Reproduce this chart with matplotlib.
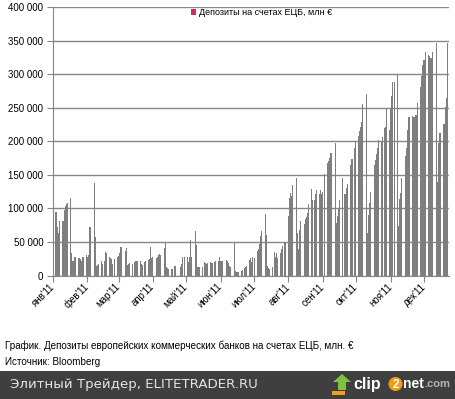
import numpy as np
import pandas as pd
import matplotlib
matplotlib.use('Agg')
import matplotlib.pyplot as plt
from matplotlib.patches import Patch, Rectangle, Polygon, Ellipse

plt.rcParams['font.family'] = ['Liberation Sans', 'DejaVu Sans']

# Депозиты на счетах ЕЦБ, млн €, одно значение на рабочий день (2011)
jan = [95000, 94000, 72000, 63000, 81000, 81000, 97000, 104000, 106000, 108000,
       116000, 33000, 22000, 27000, 27000, 26000, 26000, 25000, 21000, 27000, 31000]
feb = [27000, 30000, 72000, 72000, 138000, 57000, 14000, 16000, 17000, 21000,
       17000, 21000, 35000, 34000, 27000, 26000, 24000, 17000, 25000, 28000]
mar = [29000, 34000, 43000, 43000, 36000, 41000, 15000, 17000, 18000, 17000,
       20000, 21000, 21000, 22000, 21000, 17000, 16000, 20000, 21000, 23000,
       24000, 42000, 26000]
apr = [27000, 26000, 27000, 30000, 32000, 30000, 41000, 50000, 12000, 11000,
       10000, 10000, 10000, 14000, 14000, 0, 0, 13000, 17000, 27000, 28000]
may = [27000, 20000, 28000, 53000, 28000, 66000, 45000, 13000, 12000, 13000,
       13000, 20000, 19000, 17000, 18000, 20000, 19000, 18000, 20000, 21000,
       21000, 28000]
jun = [21000, 21000, 21000, 23000, 21000, 19000, 14000, 12000, 50000, 7000,
       5000, 5000, 5000, 6000, 8000, 11000, 13000, 14000, 23000, 26000,
       20000, 28000]
jul = [26000, 36000, 39000, 47000, 59000, 66000, 92000, 61000, 14000, 11000,
       10000, 12000, 35000, 28000, 34000, 26000, 34000, 39000, 44000, 50000, 50000]
aug = [88000, 115000, 123000, 118000, 135000, 146000, 63000, 39000, 68000, 81000,
       77000, 85000, 87000, 93000, 107000, 129000, 112000, 112000, 121000, 127000,
       121000, 127000, 121000]
sep = [125000, 151000, 168000, 171000, 175000, 182000, 182000, 198000, 78000, 88000,
       100000, 113000, 146000, 122000, 122000, 130000, 137000, 165000, 174000, 174000,
       190000, 200000]
oct = [208000, 215000, 222000, 229000, 256000, 270000, 63000, 90000, 108000, 124000,
       165000, 172000, 181000, 190000, 202000, 201000, 207000, 220000, 221000, 250000,
       217000]
nov = [250000, 267000, 288000, 288000, 299000, 74000, 114000, 123000, 145000, 178000,
       190000, 217000, 237000, 237000, 238000, 237000, 240000, 240000, 257000, 281000,
       297000, 314000]
dec = [322000, 334000, 329000, 327000, 324000, 324000, 334000, 347000, 140000, 198000,
       213000, 213000, 226000, 251000, 265000, 347000]

month_labels = ["янв'11", "фев'11", "мар'11", "апр'11", "май'11", "июн'11",
                "июл'11", "авг'11", "сен'11", "окт'11", "ноя'11", "дек'11"]

values = np.array(jan + feb + mar + apr + may + jun + jul + aug + sep + oct + nov + dec)
dates = pd.bdate_range('2011-01-03', '2011-12-22')
t0 = pd.Timestamp('2011-01-01')
days = (dates - t0).days.values
month_pos = (pd.date_range('2011-01-01', periods=12, freq='MS') - t0).days.values

W, H = 456, 399
fig = plt.figure(figsize=(W / 100, H / 100), dpi=100)
ax = fig.add_axes([53 / W, 1 - 275.5 / H, 396 / W, 268.2 / H])

ax.bar(days, values, width=0.92, color='#7f7f7f', linewidth=0)
ax.set_xlim(0.75, 356.5)
ax.set_ylim(0, 400000)

yt = np.arange(0, 400001, 50000)
ax.set_yticks(yt)
ax.set_yticklabels(['{:,}'.format(v).replace(',', ' ') for v in yt])
ax.yaxis.grid(True, color='#868686', lw=1)
ax.set_axisbelow(True)

ax.set_xticks(month_pos)
ax.set_xticklabels(month_labels, rotation=45, ha='right', va='center',
                   rotation_mode='anchor')

for s in ['top', 'right']:
    ax.spines[s].set_visible(False)
for s in ['left', 'bottom']:
    ax.spines[s].set_color('#868686')
ax.tick_params(axis='both', direction='out', length=4, color='#868686',
               labelsize=7, pad=3)

ax.legend(handles=[Patch(facecolor='#d6246e')],
          labels=['Депозиты на счетах ЕЦБ, млн €'],
          loc='upper left', bbox_to_anchor=(191 / W, 1 - 8 / H),
          bbox_transform=fig.transFigure, frameon=False, fontsize=6.5,
          handlelength=0.6, handleheight=0.6, handletextpad=0.25,
          borderpad=0, borderaxespad=0)

fig.text(5 / W, 1 - 346 / H,
         'График. Депозиты европейских коммерческих банков на счетах ЕЦБ, млн. €',
         fontsize=7.1, va='center')
fig.text(5 / W, 1 - 362 / H, 'Источник: Bloomberg', fontsize=7.1, va='center')

# footer band
fig.add_artist(Rectangle((0, 0), 1, 28 / H, transform=fig.transFigure,
                         facecolor='#3f3f3f', edgecolor='none'))
fig.text(10 / W, 1 - 384.5 / H, 'Элитный Трейдер, ELITETRADER.RU',
         color='#e4e4e4', fontsize=9.6, family='DejaVu Sans', va='center')


def px(x, y):
    return (x / W, 1 - y / H)


arrow = [px(342, 374), px(351, 382), px(346, 382), px(346, 390),
         px(338, 390), px(338, 382), px(333, 382)]
fig.add_artist(Polygon(arrow, closed=True, transform=fig.transFigure,
                       facecolor='#7cc243', edgecolor='none'))
fig.add_artist(Rectangle(px(332, 395), 13 / W, 4 / H, transform=fig.transFigure,
                         facecolor='#f0a020', edgecolor='none'))
fig.text(*px(353, 384), 'clip', color='white', fontsize=11.5, weight='bold', va='center')
fig.add_artist(Ellipse(px(395.5, 384), 14 / W, 14 / H, transform=fig.transFigure,
                       facecolor='#f39c12', edgecolor='none'))
fig.text(*px(395.5, 384.5), '2', color='white', fontsize=8.5, weight='bold',
         ha='center', va='center')
fig.text(*px(403.5, 384), 'net', color='white', fontsize=10, weight='bold', va='center')
fig.text(*px(424.5, 384), '.com', color='#b4b4b4', fontsize=8, weight='bold', va='center')

fig.savefig('out.png', dpi=100)
